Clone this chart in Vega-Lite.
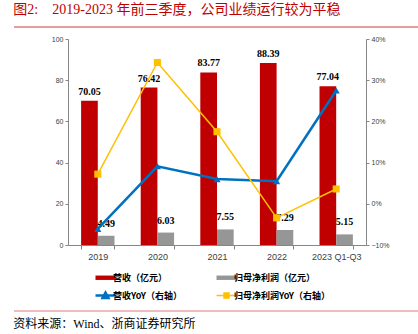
{
  "$schema": "https://vega.github.io/schema/vega-lite/v6.json",
  "padding": {"left": 13, "top": 3, "right": 0, "bottom": 0},
  "spacing": 7,
  "resolve": {"scale": {"color": "independent"}, "legend": {"color": "independent"}},
  "config": {
    "view": {"stroke": null},
    "font": "Liberation Sans"
  },
  "datasets": {
    "bars": [
      {"year": "2019", "series": "营收（亿元）", "value": 70.05},
      {"year": "2019", "series": "归母净利润（亿元）", "value": 4.49},
      {"year": "2020", "series": "营收（亿元）", "value": 76.42},
      {"year": "2020", "series": "归母净利润（亿元）", "value": 6.03},
      {"year": "2021", "series": "营收（亿元）", "value": 83.77},
      {"year": "2021", "series": "归母净利润（亿元）", "value": 7.55},
      {"year": "2022", "series": "营收（亿元）", "value": 88.39},
      {"year": "2022", "series": "归母净利润（亿元）", "value": 7.29},
      {"year": "2023 Q1-Q3", "series": "营收（亿元）", "value": 77.04},
      {"year": "2023 Q1-Q3", "series": "归母净利润（亿元）", "value": 5.15}
    ],
    "lines": [
      {"year": "2019", "series": "营收YoY（右轴）", "yoy": -0.061},
      {"year": "2020", "series": "营收YoY（右轴）", "yoy": 0.091},
      {"year": "2021", "series": "营收YoY（右轴）", "yoy": 0.060},
      {"year": "2022", "series": "营收YoY（右轴）", "yoy": 0.055},
      {"year": "2023 Q1-Q3", "series": "营收YoY（右轴）", "yoy": 0.275},
      {"year": "2019", "series": "归母净利润YoY（右轴）", "yoy": 0.072},
      {"year": "2020", "series": "归母净利润YoY（右轴）", "yoy": 0.343},
      {"year": "2021", "series": "归母净利润YoY（右轴）", "yoy": 0.175},
      {"year": "2022", "series": "归母净利润YoY（右轴）", "yoy": -0.034},
      {"year": "2023 Q1-Q3", "series": "归母净利润YoY（右轴）", "yoy": 0.036}
    ],
    "one": [{"k": 1}]
  },
  "vconcat": [
    {
      "data": {"name": "one"},
      "width": 351,
      "height": 8,
      "mark": {"type": "rule", "stroke": "#D03A3A", "strokeWidth": 1.2, "clip": false},
      "encoding": {
        "x": {"datum": -0.154, "type": "quantitative", "scale": {"domain": [0, 1], "nice": false, "zero": false}, "axis": null},
        "x2": {"datum": 1},
        "y": {"datum": 0, "type": "quantitative", "scale": {"domain": [0, 1], "nice": false}, "axis": null}
      },
      "title": {
        "text": "图2:\u30002019-2023 年前三季度，公司业绩运行较为平稳",
        "anchor": "start",
        "frame": "bounds",
        "orient": "top",
        "font": "Liberation Serif, Noto Sans CJK SC",
        "fontSize": 14,
        "fontWeight": "normal",
        "color": "#C00000",
        "offset": 2
      }
    },
    {
      "width": 298,
      "height": 206,
      "resolve": {"scale": {"y": "independent"}},
      "layer": [
        {
          "data": {"name": "bars"},
          "layer": [
            {
              "mark": {"type": "bar"},
              "encoding": {
                "x": {
                  "field": "year", "type": "nominal", "sort": null,
                  "scale": {"paddingInner": 0.44, "paddingOuter": 0.22},
                  "axis": {
                    "title": null, "tickBand": "extent", "tickSize": 4,
                    "domainColor": "#868686", "tickColor": "#868686",
                    "labelFontSize": 9, "labelColor": "#404040", "labelPadding": 3,
                    "labelAngle": 0, "labelFont": "Liberation Sans"
                  }
                },
                "xOffset": {"field": "series", "type": "nominal", "sort": ["营收（亿元）", "归母净利润（亿元）"]},
                "y": {
                  "field": "value", "type": "quantitative",
                  "scale": {"domain": [0, 100], "nice": false},
                  "axis": {
                    "title": null, "values": [0, 10, 20, 30, 40, 50, 60, 70, 80, 90, 100],
                    "grid": false, "tickSize": 3, "domainColor": "#868686", "tickColor": "#868686",
                    "labelFontSize": 7, "labelColor": "#404040", "labelPadding": 2,
                    "labelOverlap": false, "labelFont": "Liberation Sans"
                  }
                },
                "color": {
                  "field": "series", "type": "nominal",
                  "scale": {
                    "domain": ["营收（亿元）", "归母净利润（亿元）", "营收YoY（右轴）", "归母净利润YoY（右轴）"],
                    "range": ["#C00000", "#969696", "#0070C0", "#FFC000"]
                  },
                  "legend": {
                    "title": null,
                    "orient": "none",
                    "direction": "horizontal",
                    "legendX": 33,
                    "legendY": 234,
                    "columns": 2,
                    "columnPadding": 30,
                    "rowPadding": 4,
                    "symbolSize": 400,
                    "labelFont": "Noto Sans CJK SC",
                    "labelFontSize": 9,
                    "labelFontWeight": "bold",
                    "labelColor": "#000000",
                    "labelOffset": 3,
                    "encode": {
                      "symbols": {
                        "update": {
                          "shape": {"signal": "test(/YoY/, datum.value) ? (test(/^营收/, datum.value) ? 'M-1,0H1M-0.3,0.25L0.3,0.25L0,-0.3Z' : 'M-1,0H1M-0.25,-0.25H0.25V0.25H-0.25Z') : 'M-1,-0.22H1V0.22H-1Z'"},
                          "strokeWidth": {"signal": "test(/^营收YoY/, datum.value) ? 2.5 : (test(/YoY/, datum.value) ? 1.5 : 0)"},
                          "fill": {"scale": "color", "field": "value"},
                          "stroke": {"scale": "color", "field": "value"},
                          "opacity": {"value": 1},
                          "fillOpacity": {"value": 1}
                        }
                      }
                    }
                  }
                }
              }
            },
            {
              "transform": [{"filter": "datum.series === '营收（亿元）'"}],
              "mark": {"type": "text", "baseline": "bottom", "dy": -4, "font": "Liberation Serif", "fontWeight": "bold", "fontSize": 10, "color": "#000000"},
              "encoding": {
                "x": {"field": "year", "type": "nominal", "sort": null},
                "xOffset": {"field": "series", "type": "nominal", "sort": ["营收（亿元）", "归母净利润（亿元）"]},
                "y": {"field": "value", "type": "quantitative"},
                "text": {"field": "value", "type": "quantitative", "format": ".2f"}
              }
            },
            {
              "transform": [{"filter": "datum.series === '归母净利润（亿元）'"}],
              "mark": {"type": "text", "baseline": "bottom", "dy": -7, "font": "Liberation Serif", "fontWeight": "bold", "fontSize": 10, "color": "#000000"},
              "encoding": {
                "x": {"field": "year", "type": "nominal", "sort": null},
                "xOffset": {"field": "series", "type": "nominal", "sort": ["营收（亿元）", "归母净利润（亿元）"]},
                "y": {"field": "value", "type": "quantitative"},
                "text": {"field": "value", "type": "quantitative", "format": ".2f"}
              }
            }
          ]
        },
        {
          "data": {"name": "lines"},
          "layer": [
            {
              "mark": {"type": "line"},
              "encoding": {
                "x": {"field": "year", "type": "nominal", "sort": null},
                "y": {
                  "field": "yoy", "type": "quantitative",
                  "scale": {"domain": [-0.1, 0.4], "nice": false},
                  "axis": {
                    "orient": "right", "title": null, "format": ".0%",
                    "values": [-0.1, -0.05, 0, 0.05, 0.1, 0.15, 0.2, 0.25, 0.3, 0.35, 0.4],
                    "grid": false, "tickSize": 3, "domainColor": "#868686", "tickColor": "#868686",
                    "labelOverlap": false,
                    "labelFontSize": 7, "labelColor": "#404040", "labelPadding": 2, "labelFont": "Liberation Sans"
                  }
                },
                "color": {"field": "series", "type": "nominal"},
                "strokeWidth": {
                  "field": "series", "type": "nominal",
                  "scale": {"domain": ["营收YoY（右轴）", "归母净利润YoY（右轴）"], "range": [2.5, 1.5]},
                  "legend": null
                }
              }
            },
            {
              "mark": {"type": "point", "filled": true, "opacity": 1, "size": 50},
              "encoding": {
                "x": {"field": "year", "type": "nominal", "sort": null},
                "y": {"field": "yoy", "type": "quantitative"},
                "color": {"field": "series", "type": "nominal"},
                "shape": {
                  "field": "series", "type": "nominal",
                  "scale": {"domain": ["营收YoY（右轴）", "归母净利润YoY（右轴）"], "range": ["triangle-up", "square"]},
                  "legend": null
                }
              }
            }
          ]
        }
      ]
    },
    {
      "data": {"name": "one"},
      "width": 351,
      "height": 8,
      "mark": {"type": "rule", "stroke": "#E07A7A", "strokeWidth": 1.2, "clip": false},
      "encoding": {
        "x": {"datum": -0.154, "type": "quantitative", "scale": {"domain": [0, 1], "nice": false, "zero": false}, "axis": null},
        "x2": {"datum": 1},
        "y": {"datum": 1, "type": "quantitative", "scale": {"domain": [0, 1], "nice": false}, "axis": null}
      },
      "title": {
        "text": "资料来源：Wind、浙商证券研究所",
        "anchor": "start",
        "frame": "bounds",
        "orient": "bottom",
        "font": "Liberation Serif, Noto Sans CJK SC",
        "fontSize": 12,
        "fontWeight": "normal",
        "color": "#000000",
        "offset": 0
      }
    }
  ]
}
